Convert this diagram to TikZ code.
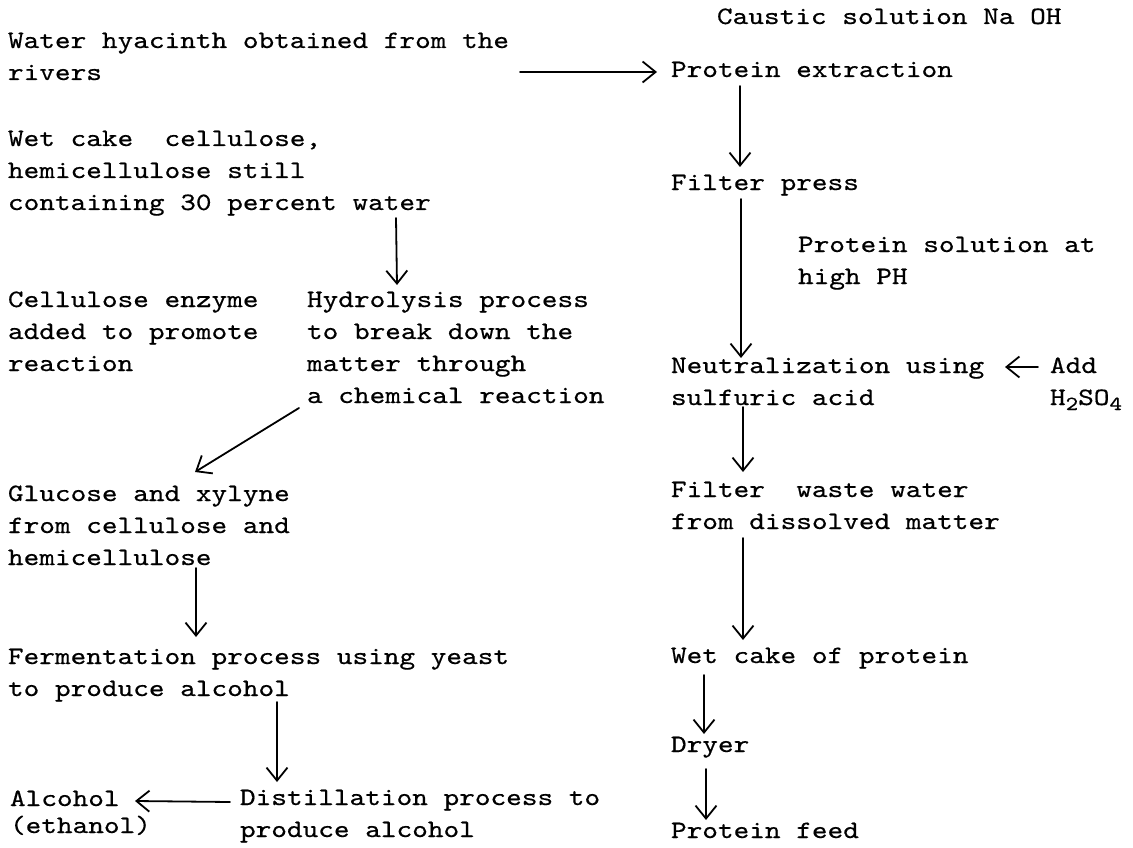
\documentclass[tikz,border=0pt]{standalone}
\usepackage{graphicx}
\usepackage{fontspec}
\newfontfamily\twfont{lmmono10-regular}[Extension=.otf,FakeBold=0.45]
\usetikzlibrary{arrows.meta,calc}
\newcommand\twtext[1]{\scalebox{1.193}[1]{\begin{tabular}[t]{@{}l@{}}#1\end{tabular}}}
\newcommand\lowsub[1]{\raisebox{-5pt}{\fontsize{20}{20}\selectfont #1}}
\tikzset{
  lbl/.style={anchor=base west,inner sep=0pt,outer sep=0pt,font=\fontsize{25}{32}\selectfont\twfont},
  arr/.style={-{Straight Barb[length=13pt,width=21pt,line width=1.8pt]},line width=1.8pt,line cap=round}
}
\begin{document}
\begin{tikzpicture}[x=1pt,y=1pt]
\useasboundingbox[fill=white] (0,0) rectangle (1133,-848);
% right column
\node[lbl] (cau) at (717,-24) {\twtext{Caustic solution Na OH}};
\node[lbl] (pex) at (671,-77) {\twtext{Protein extraction}};
\node[lbl] (fp) at (671,-190) {\twtext{Filter press}};
\node[lbl] (psol) at (798,-252) {\twtext{Protein solution at\\high PH}};
\node[lbl] (neu) at (671,-373) {\twtext{Neutralization using\\sulfuric acid}};
\node[lbl] (add) at (1050,-373) {\twtext{Add\\H\lowsub{2}SO\lowsub{4}}};
\node[lbl] (fww) at (671,-497) {\twtext{Filter~ waste water\\from dissolved matter}};
\node[lbl] (wcp) at (671,-663) {\twtext{Wet cake of protein}};
\node[lbl] (dry) at (671,-752) {\twtext{Dryer}};
\node[lbl] (pf) at (671,-838) {\twtext{Protein feed}};
% left column
\node[lbl] (hya) at (8,-48) {\twtext{Water hyacinth obtained from the\\rivers}};
\node[lbl] (wet) at (8,-146) {\twtext{Wet cake~ cellulose,\\hemicellulose still\\containing 30 percent water}};
\node[lbl] (enz) at (8,-307) {\twtext{Cellulose enzyme\\added to promote\\reaction}};
\node[lbl] (hyd) at (307,-307) {\twtext{Hydrolysis process\\to break down the\\matter through\\a chemical reaction}};
\node[lbl] (glu) at (8,-501) {\twtext{Glucose and xylyne\\from cellulose and\\hemicellulose}};
\node[lbl] (fer) at (8,-664) {\twtext{Fermentation process using yeast\\to produce alcohol}};
\node[lbl] (dis) at (240,-805) {\twtext{Distillation process to\\produce alcohol}};
\node[lbl,font=\fontsize{25}{27}\selectfont\twfont] (alc) at (10,-806) {\twtext{Alcohol\\(ethanol)}};
% connectors
\draw[arr] ($(hya.base west)+(512,-24)$) -- ($(pex.base west)+(-14,5)$);
\draw[arr] ($(pex.base west)+(69,-9)$) -- ($(fp.base west)+(69,23)$);
\draw[arr] ($(fp.base west)+(70,-9)$) -- ($(neu.base west)+(70,15)$);
\draw[arr] ($(add.base west)+(-12,6)$) -- ($(neu.base west)+(334,6)$);
\draw[arr] ($(neu.base west)+(72,-34)$) -- ($(fww.base west)+(72,25)$);
\draw[arr] ($(fww.base west)+(72,-41)$) -- ($(wcp.base west)+(72,23)$);
\draw[arr] ($(wcp.base west)+(33,-12)$) -- ($(dry.base west)+(33,18)$);
\draw[arr] ($(dry.base west)+(35,-17)$) -- ($(pf.base west)+(35,18)$);
\draw[arr] ($(wet.base west)+(388,-72)$) -- ($(hyd.base west)+(90,22)$);
\draw[arr] ($(hyd.base west)+(-8,-101)$) -- ($(glu.base west)+(187,29)$);
\draw[arr] ($(glu.base west)+(188,-67)$) -- ($(fer.base west)+(188,27)$);
\draw[arr] ($(fer.base west)+(269,-38)$) -- ($(dis.base west)+(37,23)$);
\draw[arr] ($(dis.base west)+(-10,3)$) -- ($(alc.base west)+(125,5)$);
\end{tikzpicture}
\end{document}
